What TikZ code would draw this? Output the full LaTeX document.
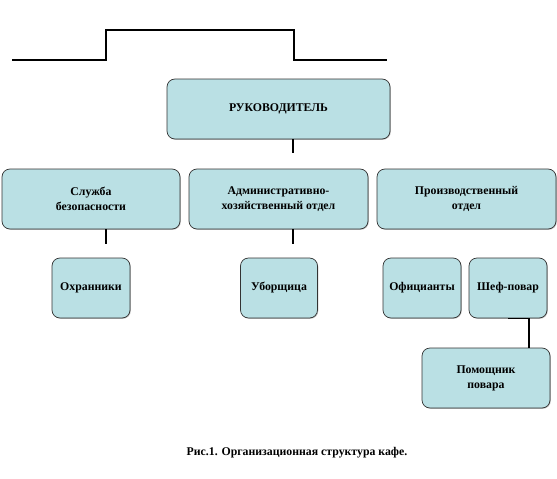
\documentclass[tikz,border=0pt]{standalone}
\usepackage{fontspec}
\setmainfont{Liberation Serif}
\usetikzlibrary{positioning,shadows}
\definecolor{boxfill}{RGB}{186,224,228}
\tikzset{
  unit/.style={draw=black!80, fill=boxfill, rounded corners=8pt, line width=0.7pt,
    align=center, font=\bfseries\fontsize{11.8}{15}\selectfont,
    inner sep=1pt, drop shadow={shadow xshift=0.8pt, shadow yshift=-0.8pt, opacity=0.5}},
  link/.style={line width=1.6pt}
}

\begin{document}
\begin{tikzpicture}[x=1pt, y=-1pt]
    \useasboundingbox (0,0) rectangle (557,479);

    % Bracket on top
    \draw[link] (12,60) -- (106,60) -- (106,30) -- (294,30) -- (294,60) -- (387,60);

    % Head
    \node[unit, minimum width=223pt, minimum height=60pt] (head) at (278.5,109) {РУКОВОДИТЕЛЬ};

    % Departments
    \node[unit, minimum width=178pt, minimum height=60pt] (secur) at (91,199) {Служба\\безопасности};
    \node[unit, minimum width=179pt, minimum height=60pt] (admin) at (278.5,199) {Административно-\\хозяйственный отдел};
    \node[unit, minimum width=179pt, minimum height=60pt] (prod) at (466.5,199) {Производственный\\отдел};

    % Staff
    \node[unit, minimum width=78pt, minimum height=60pt] (guards) at (91,288) {Охранники};
    \node[unit, minimum width=77pt, minimum height=60pt] (cleaner) at (279,288) {Уборщица};
    \node[unit, minimum width=78pt, minimum height=60pt] (waiters) at (422,288) {Официанты};
    \node[unit, minimum width=78pt, minimum height=60pt] (chef) at (508,288) {Шеф-повар};
    \node[unit, minimum width=128pt, minimum height=60pt] (helper) at (486,378) {Помощник\\повара};

    % Stubs and links
    \draw[link] ([xshift=14.5pt]head.south) -- ++(0,14);
    \draw[link] ([xshift=15pt]secur.south) -- ++(0,15);
    \draw[link] ([xshift=14.5pt]admin.south) -- ++(0,15);
    \draw[link] (chef.south) -- ([xshift=21pt]chef.south) -- ([xshift=43pt]helper.north);

    % Caption
    \node[font=\bfseries\fontsize{11.8}{14}\selectfont] (caption) at (297,453) {Рис.1. Организационная структура кафе.};
\end{tikzpicture}
\end{document}
